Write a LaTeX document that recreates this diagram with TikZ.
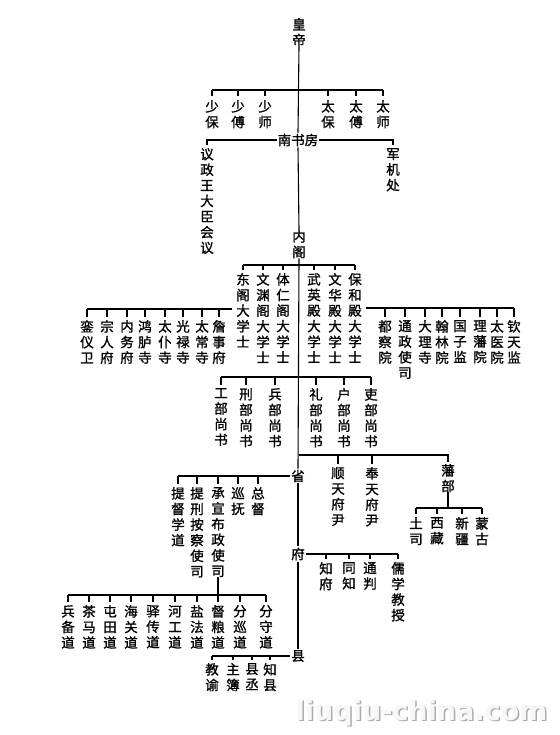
\documentclass[tikz,border=0pt]{standalone}
\usepackage{fontspec}
\newfontfamily\cjk{Noto Sans CJK SC}[FakeBold=1.2]
\newfontfamily\wmfont{DejaVu Sans}
\newcommand\mytick[2]{\draw[ln] (#2.north |- #1) -- ([yshift=3.5pt]#2.north);}
\begin{document}
\begin{tikzpicture}[x=1pt,y=-1pt,
  lbl/.style={font=\cjk\fontsize{13.5}{15.6}\selectfont, inner sep=0pt, align=center, anchor=north},
  hl/.style={font=\cjk\fontsize{13.5}{15.6}\selectfont, inner sep=1pt, fill=white},
  ln/.style={line width=1.1pt, black}]
\useasboundingbox (0,0) rectangle (559,735);

% ---- nodes ----
\node[lbl] (emp) at (299,18) {皇\\帝};
\node[lbl] (shb) at (212,100) {少\\保};
\node[lbl] (shf) at (238,100) {少\\傅};
\node[lbl] (shs) at (265,100) {少\\师};
\node[lbl] (tab) at (328,100) {太\\保};
\node[lbl] (taf) at (356,100) {太\\傅};
\node[lbl] (tas) at (383,100) {太\\师};
\node[hl] (nsf) at (298,140) {南书房};
\node[lbl] (yz) at (207,148) {议\\政\\王\\大\\臣\\会\\议};
\node[lbl] (jj) at (393,148) {军\\机\\处};
\node[lbl] (nei) at (299,230) {内\\阁};

\node[lbl] (dg) at (243,273) {东\\阁\\大\\学\\士};
\node[lbl] (wy) at (263,273) {文\\渊\\阁\\大\\学\\士};
\node[lbl] (tr) at (283,273) {体\\仁\\阁\\大\\学\\士};
\node[lbl] (wyd) at (314,273) {武\\英\\殿\\大\\学\\士};
\node[lbl] (whd) at (335,273) {文\\华\\殿\\大\\学\\士};
\node[lbl] (bhd) at (355,273) {保\\和\\殿\\大\\学\\士};

\node[lbl] (lyw) at (87,320) {銮\\仪\\卫};
\node[lbl] (zrf) at (107,320) {宗\\人\\府};
\node[lbl] (nwf) at (127,320) {内\\务\\府};
\node[lbl] (hls) at (145,320) {鸿\\胪\\寺};
\node[lbl] (tps) at (165,320) {太\\仆\\寺};
\node[lbl] (gls) at (183,320) {光\\禄\\寺};
\node[lbl] (tcs) at (202,320) {太\\常\\寺};
\node[lbl] (zsf) at (219,320) {詹\\事\\府};

\node[lbl] (dcy) at (385,320) {都\\察\\院};
\node[lbl] (tzs) at (405,320) {通\\政\\使\\司};
\node[lbl] (dls) at (425,320) {大\\理\\寺};
\node[lbl] (hly) at (442,320) {翰\\林\\院};
\node[lbl] (gzj) at (460,320) {国\\子\\监};
\node[lbl] (lfy) at (480,320) {理\\藩\\院};
\node[lbl] (tyy) at (497,320) {太\\医\\院};
\node[lbl] (qtj) at (514,320) {钦\\天\\监};

\node[lbl] (gong) at (221,388) {工\\部\\尚\\书};
\node[lbl] (xing) at (246,388) {刑\\部\\尚\\书};
\node[lbl] (bing) at (275,388) {兵\\部\\尚\\书};
\node[lbl] (li) at (316,388) {礼\\部\\尚\\书};
\node[lbl] (hu) at (344,388) {户\\部\\尚\\书};
\node[lbl] (lib) at (371,388) {吏\\部\\尚\\书};

\node[lbl] (shun) at (338,467) {顺\\天\\府\\尹};
\node[lbl] (feng) at (372,467) {奉\\天\\府\\尹};
\node[lbl] (fan) at (448,464) {藩\\部};
\node[lbl] (tusi) at (416,517) {土\\司};
\node[lbl] (xz) at (437,517) {西\\藏};
\node[lbl] (xj) at (462,517) {新\\疆};
\node[lbl] (mg) at (482,517) {蒙\\古};

\node[hl] (sheng) at (298,476) {省};
\node[lbl] (tdxd) at (178,487) {提\\督\\学\\道};
\node[lbl] (txas) at (197,487) {提\\刑\\按\\察\\使\\司};
\node[lbl] (cxbz) at (218,487) {承\\宣\\布\\政\\使\\司};
\node[lbl] (xf) at (238,487) {巡\\抚};
\node[lbl] (zd) at (258,487) {总\\督};

\node[lbl] (d1) at (68,605) {兵\\备\\道};
\node[lbl] (d2) at (89,605) {茶\\马\\道};
\node[lbl] (d3) at (110,605) {屯\\田\\道};
\node[lbl] (d4) at (131,605) {海\\关\\道};
\node[lbl] (d5) at (153,605) {驿\\传\\道};
\node[lbl] (d6) at (175,605) {河\\工\\道};
\node[lbl] (d7) at (197,605) {盐\\法\\道};
\node[lbl] (d8) at (218,605) {督\\粮\\道};
\node[lbl] (d9) at (240,605) {分\\巡\\道};
\node[lbl] (d10) at (266,605) {分\\守\\道};

\node[hl] (fu) at (298,554) {府};
\node[lbl] (zf) at (326,562) {知\\府};
\node[lbl] (tz) at (349,562) {同\\知};
\node[lbl] (tp) at (370,562) {通\\判};
\node[lbl] (rx) at (398,562) {儒\\学\\教\\授};

\node[hl] (xian) at (298,656) {县};
\node[lbl] (jy) at (212,663) {教\\谕};
\node[lbl] (zb) at (233,663) {主\\簿};
\node[lbl] (xc) at (252,663) {县\\丞};
\node[lbl] (zx) at (270,663) {知\\县};

% ---- spine ----
\draw[ln] (emp.south) -- (nsf.north);
\draw[ln] (nsf.south) -- (nei.north);
\draw[ln] (nei.south) -- (sheng.north);
\draw[ln] (sheng.south) -- (fu.north);
\draw[ln] (fu.south) -- (xian.north);

% ---- top bar ----
\coordinate (b0) at (299,90);
\draw[ln] (shb.north |- b0) -- (tas.north |- b0);
\foreach \n in {shb,shf,shs,tab,taf,tas} {\mytick{b0}{\n}}

% ---- nan shu fang ----
\draw[ln] (nsf.west) -| ([yshift=3pt]yz.north);
\draw[ln] (nsf.east) -| ([yshift=3pt]jj.north);

% ---- nei ge ----
\coordinate (b1) at (299,265);
\draw[ln] (dg.north |- b1) -- (bhd.north |- b1);
\foreach \n in {dg,wy,tr,wyd,whd,bhd} {\mytick{b1}{\n}}

\coordinate (b2) at (0,309);
\draw[ln] ([xshift=-4pt]dg.west |- b2) -- (lyw.north |- b2);
\foreach \n in {lyw,zrf,nwf,hls,tps,gls,tcs,zsf} {\mytick{b2}{\n}}

\coordinate (b3) at (0,308);
\draw[ln] ([xshift=4pt]bhd.east |- b3) -- (qtj.north |- b3);
\foreach \n in {dcy,tzs,dls,hly,gzj,lfy,tyy,qtj} {\mytick{b3}{\n}}

% ---- liu bu ----
\coordinate (b4) at (0,377);
\draw[ln] (gong.north |- b4) -- (lib.north |- b4);
\foreach \n in {gong,xing,bing,li,hu,lib} {\mytick{b4}{\n}}

% ---- shuntian / fengtian / fanbu ----
\coordinate (b5) at (299,455);
\draw[ln] (b5) -| ([yshift=2pt]fan.north);
\foreach \n in {shun,feng} {\mytick{b5}{\n}}
\coordinate (b6) at (0,508);
\draw[ln] (fan.south) -- (fan.south |- b6);
\draw[ln] (tusi.north |- b6) -- (mg.north |- b6);
\foreach \n in {tusi,xz,xj,mg} {\mytick{b6}{\n}}

% ---- sheng ----
\draw[ln] (sheng.west) -- (tdxd.north |- sheng.west);
\foreach \n in {tdxd,txas,cxbz,xf,zd} {\mytick{sheng.west}{\n}}
\coordinate (b7) at (0,595);
\draw[ln] (cxbz.south) -- (cxbz.south |- b7);
\draw[ln] (d1.north |- b7) -- (d10.north |- b7);
\foreach \n in {d1,d2,d3,d4,d5,d6,d7,d8,d9,d10} {\mytick{b7}{\n}}

% ---- fu ----
\draw[ln] (fu.east) -- (rx.north |- fu.east);
\foreach \n in {zf,tz,tp,rx} {\mytick{fu.east}{\n}}

% ---- xian ----
\draw[ln] (xian.west) -- (jy.north |- xian.west);
\foreach \n in {jy,zb,xc,zx} {\mytick{xian.west}{\n}}

% ---- watermark ----
\node[anchor=west, inner sep=0pt, font=\wmfont\bfseries\fontsize{27}{27}\selectfont, text=gray!65] (wms) at (297,714.5) {liuqiu-china.com};
\node[anchor=west, inner sep=0pt, font=\wmfont\bfseries\fontsize{27}{27}\selectfont, text=gray!6] (wm) at (295.5,713) {liuqiu-china.com};
\end{tikzpicture}
\end{document}
